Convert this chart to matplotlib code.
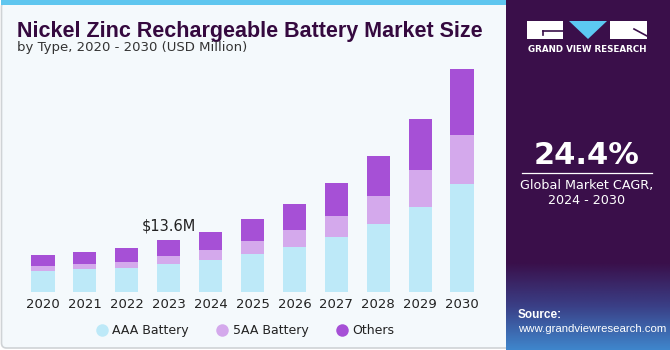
import numpy as np
import matplotlib.pyplot as plt
from matplotlib.patches import Rectangle, Polygon, FancyBboxPatch
from matplotlib.colors import LinearSegmentedColormap
from matplotlib.lines import Line2D

# Market size by type, USD Million
years = ['2020', '2021', '2022', '2023', '2024', '2025', '2026', '2027', '2028', '2029', '2030']
aaa = [5.5, 6.0, 6.3, 7.3, 8.4, 9.9, 11.8, 14.4, 17.8, 22.2, 28.2]
five_aa = [1.2, 1.3, 1.6, 2.1, 2.6, 3.4, 4.4, 5.5, 7.3, 9.7, 12.8]
others = [2.9, 3.1, 3.7, 4.2, 4.7, 5.8, 6.8, 8.6, 10.5, 13.3, 17.3]
series_names = ['AAA Battery', '5AA Battery', 'Others']
colors = ['#bde9f8', '#d4a9ec', '#a650d6']
highlight_year = '2023'
highlight_label = '$13.6M'

W, H = 670, 350
fig = plt.figure(figsize=(W / 100, H / 100), dpi=100)
fig.patch.set_facecolor('white')

# background / decoration layer in pixel coords
bg = fig.add_axes([0, 0, 1, 1])
bg.set_xlim(0, W)
bg.set_ylim(H, 0)
bg.axis('off')
bg.add_patch(FancyBboxPatch((1.5, 2), 520, 346, boxstyle='round,pad=0,rounding_size=5',
                            facecolor='#f4f9fc', edgecolor='#cfd3d6', lw=1.2))
bg.add_patch(Rectangle((1, 0), 510, 5, facecolor='#5fc6ef', edgecolor='none'))

# right panel with gradient at the bottom
bg.add_patch(Rectangle((506, 0), 164, 350, facecolor='#3a0f4a', edgecolor='none'))
grad = np.linspace(0, 1, 100)[:, None]
cmap = LinearSegmentedColormap.from_list('g', ['#3a0f4a', '#3a3f86', '#3f86cc'])
bg.imshow(grad, extent=(506, 670, 350, 262), cmap=cmap, aspect='auto', zorder=1)

# logo
bg.add_patch(Rectangle((527, 21), 36, 18, facecolor='white', edgecolor='none', zorder=3))
bg.plot([543, 563], [31, 31], color='#3a0f4a', lw=1.2, zorder=4)
bg.plot([543, 543], [31, 35], color='#3a0f4a', lw=1.2, zorder=4)
bg.add_patch(Polygon([(569, 21), (607, 21), (588, 39)], facecolor='#5cc8f2', edgecolor='none', zorder=3))
bg.add_patch(Rectangle((610, 21), 37, 18, facecolor='white', edgecolor='none', zorder=3))
bg.plot([634, 647], [29, 36], color='#3a0f4a', lw=1.2, zorder=4)
bg.text(587, 50, 'GRAND VIEW RESEARCH', color='white', fontsize=6.3, fontweight='bold',
        ha='center', va='center', zorder=4)

bg.text(587, 156, '24.4%', color='white', fontsize=22, fontweight='bold', ha='center', va='center', zorder=4)
bg.plot([522, 652], [173, 173], color='white', lw=0.9, zorder=4)
bg.text(587, 186, 'Global Market CAGR,', color='white', fontsize=9.2, ha='center', va='center', zorder=4)
bg.text(587, 200, '2024 - 2030', color='white', fontsize=9.2, ha='center', va='center', zorder=4)
bg.text(518, 315, 'Source:', color='white', fontsize=8.5, fontweight='bold', ha='left', va='center',
        zorder=4, family='Liberation Sans')
bg.text(518, 329, 'www.grandviewresearch.com', color='white', fontsize=8.2, ha='left', va='center',
        zorder=4, family='Liberation Sans')

# titles
bg.text(17, 31, 'Nickel Zinc Rechargeable Battery Market Size', color='#35093f', fontsize=15.5,
        fontweight='bold', ha='left', va='center', family='Liberation Sans')
bg.text(17, 48, 'by Type, 2020 - 2030 (USD Million)', color='#333333', fontsize=9.5,
        ha='left', va='center')

# chart
ax = fig.add_axes([9.5 / W, 58 / H, 486 / W, 232 / H])
ax.patch.set_alpha(0)
x = np.arange(len(years))
bottom = np.zeros(len(years))
for vals, name, c in zip([aaa, five_aa, others], series_names, colors):
    ax.bar(x, vals, 0.55, bottom=bottom, color=c, label=name, edgecolor='none')
    bottom += np.array(vals)

i = years.index(highlight_year)
ax.text(x[i], bottom[i] + 1.8, highlight_label, ha='center', va='bottom', fontsize=10.5, color='#222222')

ax.set_xlim(-0.8, 10.8)
ax.set_ylim(0, 60.7)
ax.set_xticks(x)
ax.set_xticklabels(years, fontsize=9.5, color='#222222')
ax.tick_params(axis='x', length=0, pad=4)
ax.set_yticks([])
for s in ax.spines.values():
    s.set_visible(False)

# legend with round markers
handles = [Line2D([], [], marker='o', ls='none', markersize=9, markerfacecolor=c, markeredgecolor='none')
           for c in colors]
ax.legend(handles, series_names, loc='upper center', bbox_to_anchor=(0.485, -0.09), ncol=3, frameon=False,
          fontsize=9, handlelength=0.9, columnspacing=2.2, handletextpad=0.4, labelcolor='#222222')

fig.savefig('out.png', dpi=100, facecolor=fig.get_facecolor())
